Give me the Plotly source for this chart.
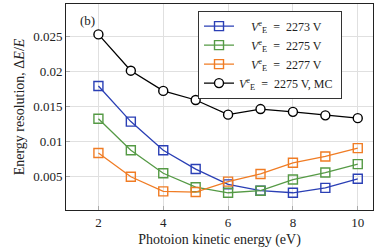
import plotly.graph_objects as go

energy = [2, 3, 4, 5, 6, 7, 8, 9, 10]
v2273 = [0.0179, 0.0128, 0.0087, 0.0060, 0.0038, 0.0029, 0.0026, 0.0033, 0.0046]
v2275 = [0.0132, 0.0087, 0.0054, 0.0034, 0.0026, 0.0029, 0.0045, 0.0055, 0.0067]
v2277 = [0.0083, 0.0049, 0.0028, 0.0027, 0.0042, 0.0053, 0.0069, 0.0078, 0.0090]
v2275mc = [0.0253, 0.0201, 0.0172, 0.0159, 0.0138, 0.0146, 0.0142, 0.0137, 0.0133]

ytick_vals = [0.005, 0.01, 0.015, 0.02, 0.025]
ytick_text = ["0.005", "0.01", "0.015", "0.02", "0.025"]
xtick_vals = [2, 4, 6, 8, 10]

FONT = "Liberation Serif"
V = "<i>V</i><sup>e</sup><sub>E</sub>"
SP = "&nbsp;"

series = [
    (v2273, f"{SP*4}{V} {SP}= {SP}2273 V", "#2a3fb5", "square-open"),
    (v2275, f"{SP*4}{V} {SP}= {SP}2275 V", "#559a45", "square-open"),
    (v2277, f"{SP*4}{V} {SP}= {SP}2277 V", "#f07c24", "square-open"),
    (v2275mc, f"{V} {SP}= {SP}2275 V, MC{SP}", "#000000", "circle"),
]

fig = go.Figure()
for vals, name, color, sym in series:
    marker = dict(symbol=sym, size=9, color=color, line=dict(color=color, width=1.4))
    if sym == "circle":
        marker = dict(symbol="circle", size=9, color="white", line=dict(color=color, width=1.4))
    fig.add_trace(go.Scatter(x=energy, y=vals, name=name, mode="lines+markers",
                             line=dict(color=color, width=1.3), marker=marker))

fig.add_annotation(text="(b)", x=0.04, y=0.965, xref="paper", yref="paper",
                   showarrow=False, xanchor="left", yanchor="top",
                   font=dict(family=FONT, size=13, color="#222"))

fig.update_layout(
    width=375, height=251,
    margin=dict(l=66, r=2, t=4, b=41),
    paper_bgcolor="white", plot_bgcolor="white",
    font=dict(family=FONT, size=12, color="#222"),
    showlegend=True,
    legend=dict(x=0.43, y=0.968, xanchor="left", yanchor="top",
                bgcolor="white", bordercolor="#333", borderwidth=1,
                font=dict(family=FONT, size=12), tracegroupgap=0,
                itemwidth=30),
    xaxis=dict(range=[1.0, 10.47], tickvals=xtick_vals, ticks="inside", ticklen=4,
               tickcolor="#aaa", showgrid=True, gridcolor="#e0e0e0", gridwidth=1,
               zeroline=False, showline=True, linecolor="#222", linewidth=1, mirror=True,
               title=dict(text="Photoion kinetic energy (eV)", font=dict(family=FONT, size=14), standoff=5),
               tickfont=dict(family=FONT, size=13)),
    yaxis=dict(range=[0.00013, 0.02966], tickvals=ytick_vals, ticktext=ytick_text,
               ticks="inside", ticklen=4, tickcolor="#aaa",
               showgrid=True, gridcolor="#e0e0e0", gridwidth=1,
               zeroline=False, showline=True, linecolor="#222", linewidth=1, mirror=True,
               title=dict(text="Energy resolution, Δ<i>E</i>/<i>E</i>", font=dict(family=FONT, size=14), standoff=5),
               tickfont=dict(family=FONT, size=13)),
)

fig.write_html("out.html", config={"displayModeBar": False},
               post_script="document.body.style.margin='0';")
